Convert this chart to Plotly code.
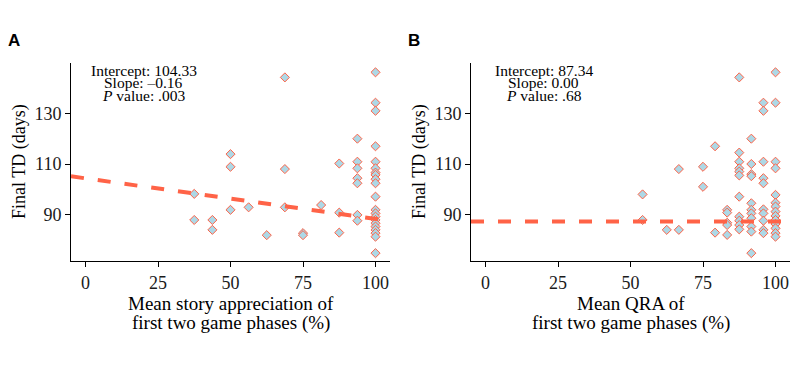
import plotly.graph_objects as go

# ---------------- data ----------------
# Panel A: mean story appreciation (%) vs final TD (days)
A_X = ([100] * 21 + [93.75] * 7 + [87.5] * 3 + [81.25] + [75] * 2 + [68.75] * 3
       + [62.5] + [56.25] + [50] * 3 + [43.75] * 2 + [37.5] * 2)
A_Y = [146.2, 134.2, 131, 117, 110.9, 108.3, 106.6, 105.7, 104, 102.4, 97.1,
       91.9, 90.5, 89.2, 87.9, 86.6, 85.3, 84, 82.7, 81.3, 74.8,
       120, 110.9, 108.3, 104.4, 102.4, 89.9, 87.6,
       110.2, 90.8, 82.9,
       93.8,
       82.7, 81.9,
       144.2, 108, 92.9,
       81.9,
       92.9,
       113.9, 108.9, 91.9,
       87.9, 84,
       98.2, 87.9]

# Panel B: mean QRA (%) vs final TD (days)
B_X = ([54.17] * 2 + [62.5] + [66.67] * 2 + [75] * 2 + [79.17] * 2 + [83.33] * 5
       + [87.5] * 11 + [91.67] * 11 + [95.83] * 10 + [100] * 14)
B_Y = [98, 87.9,
       84,
       108, 84,
       108.9, 101,
       117, 82.9,
       91.9, 90.8, 86.8, 85.9, 82,
       144.2, 114.5, 110.9, 108.3, 107, 105.5, 97.1, 89.2, 87.6, 85.9, 84.2,
       120, 110, 106, 105.2, 94.5, 91.9, 90.5, 88.6, 85.3, 83.3, 74.8,
       134.2, 131, 110.9, 104.4, 102.4, 92.1, 90.5, 87.6, 84, 82.7,
       146.2, 134.2, 110.9, 108.3, 97.8, 94.7, 93.2, 91.2, 89.5, 87.9, 86.3,
       84.6, 82.7, 81.3]

A_INTERCEPT, A_SLOPE = 104.33, -0.16
B_INTERCEPT, B_SLOPE = 87.34, 0.00
A_STATS = ["Intercept: 104.33", "Slope: \u20130.16", "<i>P</i> value: .003"]
B_STATS = ["Intercept: 87.34", "Slope: 0.00", "<i>P</i> value: .68"]
X_TICKS = [0, 25, 50, 75, 100]
Y_TICKS = [90, 110, 130]
X_RANGE = [-5, 105]
Y_RANGE = [71.7, 150]
A_XTITLE = ["Mean story appreciation of", "first two game phases (%)"]
B_XTITLE = ["Mean QRA of", "first two game phases (%)"]
Y_TITLE = "Final TD (days)"

# ---------------- figure ----------------
# the page body adds an 8px margin; lay out in page pixels and shift back
OFF = 8
W, H = 800 - OFF, 367 - OFF
SERIF = "Liberation Serif"
PT_FILL = "#ADD8E6"
RED = "#FF6347"


def px(v):
    return (v - OFF) / W


def py(v):
    return 1 - (v - OFF) / H


fig = go.Figure()

for xs, ys, b0, b1, ax in [(A_X, A_Y, A_INTERCEPT, A_SLOPE, ""),
                           (B_X, B_Y, B_INTERCEPT, B_SLOPE, "2")]:
    fig.add_trace(go.Scatter(
        x=xs, y=ys, mode="markers", xaxis="x" + ax, yaxis="y" + ax,
        marker=dict(symbol="diamond", size=7, color=PT_FILL,
                    line=dict(color=RED, width=1)),
        showlegend=False, hoverinfo="skip"))
    lx = X_RANGE
    ly = [b0 + b1 * v for v in lx]
    fig.add_trace(go.Scatter(
        x=lx, y=ly, mode="lines", xaxis="x" + ax, yaxis="y" + ax,
        line=dict(color=RED, width=4, dash="13px,14px"),
        showlegend=False, hoverinfo="skip"))

ydom = [py(261), py(62.7)]
axis_common = dict(showgrid=False, zeroline=False, showline=True,
                   linecolor="black", linewidth=1, ticks="outside",
                   ticklen=5, tickcolor="black", tickwidth=1,
                   tickfont=dict(family=SERIF, size=18, color="#1a1a1a"),
                   automargin=False)

fig.update_layout(
    width=W, height=H, margin=dict(l=0, r=0, t=0, b=0),
    paper_bgcolor="white", plot_bgcolor="white",
    xaxis=dict(domain=[px(71), px(390)], range=X_RANGE, tickvals=X_TICKS,
               anchor="y", **axis_common),
    yaxis=dict(domain=ydom, range=Y_RANGE, tickvals=Y_TICKS, anchor="x",
               **axis_common),
    xaxis2=dict(domain=[px(471), px(790)], range=X_RANGE, tickvals=X_TICKS,
                anchor="y2", **axis_common),
    yaxis2=dict(domain=ydom, range=Y_RANGE, tickvals=Y_TICKS, anchor="x2",
                **axis_common),
)

ann = []
for off, label, stats, xt, xref in [(0, "A", A_STATS, A_XTITLE, "x"),
                                    (400, "B", B_STATS, B_XTITLE, "x2")]:
    # panel label
    ann.append(dict(text="<b>%s</b>" % label, x=px(off + 14), y=py(41),
                    xref="paper", yref="paper", showarrow=False,
                    xanchor="center", yanchor="middle",
                    font=dict(family="Liberation Sans", size=17,
                              color="black")))
    # stats text
    for i, s in enumerate(stats):
        ann.append(dict(text=s, x=20, y=py(70 + 13 * i), xref=xref,
                        yref="paper", showarrow=False, xanchor="center",
                        yanchor="middle", borderpad=0,
                        font=dict(family=SERIF, size=15.5, color="black")))
    # x title (two lines)
    for i, s in enumerate(xt):
        ann.append(dict(text=s, x=px(off + 230.5), y=py(303 + 20 * i),
                        xref="paper", yref="paper", showarrow=False,
                        xanchor="center", yanchor="middle", borderpad=0,
                        font=dict(family=SERIF, size=19, color="black")))
    # y title
    ann.append(dict(text=Y_TITLE, x=px(off + 19), y=py(162),
                    xref="paper", yref="paper", showarrow=False, textangle=-90,
                    xanchor="center", yanchor="middle",
                    font=dict(family=SERIF, size=18, color="black")))

fig.update_layout(annotations=ann)
fig.write_html("out.html")
